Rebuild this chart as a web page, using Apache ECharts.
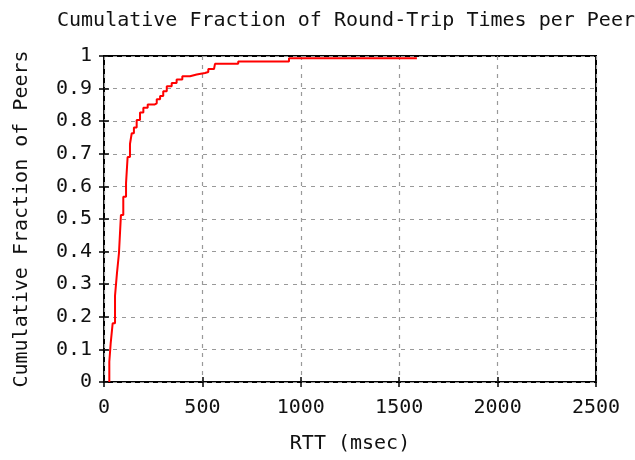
<!DOCTYPE html>
<html lang="en">
<head>
  <script src="https://cdn.jsdelivr.net/npm/echarts@6.0.0/dist/echarts.min.js"></script>
  <meta charset="UTF-8">
</head>
<body style="margin:0">
  <div id="rttChart" style="width: 635px;height:460px;"></div>

  <script type="text/javascript">

    // step points: RTT where the curve jumps, and the fraction after the jump
    var rttMs = [27, 27, 34, 44, 56, 66, 76, 86, 98, 112, 120, 132, 141, 152, 166, 183, 200, 222, 256, 268,
                 285, 301, 319, 344, 369, 398, 437, 471, 513, 530, 559, 564, 682, 940, 1590];
    var fraction = [0, 0.062, 0.119, 0.18, 0.265, 0.335, 0.395, 0.512, 0.568, 0.61, 0.69, 0.73, 0.763, 0.781, 0.804, 0.827, 0.841, 0.851, 0.855, 0.867,
                    0.877, 0.892, 0.907, 0.917, 0.928, 0.938, 0.943, 0.948, 0.951, 0.960, 0.965, 0.976, 0.983, 0.993, 0.993];
    var xTicks = [0, 500, 1000, 1500, 2000, 2500];
    var yTicks = ['0', '0.1', '0.2', '0.3', '0.4', '0.5', '0.6', '0.7', '0.8', '0.9', '1'];

    var font = 'DejaVu Sans Mono';
    var points = rttMs.map(function (x, i) { return [x, fraction[i]]; });

    function createRttChart() {
        const chart = echarts.init(document.getElementById('rttChart'));

        const tickStyle = { show: true, inside: true, length: 5, lineStyle: { color: '#000', width: 1.5 } };
        const grid = { type: [4, 5], color: '#999', width: 1.2 };

        let option = {
            animation: false,
            title: {
                text: 'Cumulative Fraction of Round-Trip Times per Peer',
                left: 52,
                top: 6,
                textStyle: { fontFamily: font, fontSize: 20, fontWeight: 'normal', color: '#111' }
            },
            grid: {
                left: 104, right: 39, top: 56, bottom: 78,
                show: true, borderColor: '#000', borderWidth: 2
            },
            xAxis: [
                {
                    type: 'value', min: 0, max: 2500, interval: 500,
                    name: 'RTT (msec)', nameLocation: 'middle', nameGap: 52,
                    nameTextStyle: { fontFamily: font, fontSize: 20, color: '#111' },
                    axisLine: { show: false },
                    axisTick: tickStyle,
                    axisLabel: {
                        fontFamily: font, fontSize: 20, color: '#111', margin: 16,
                        formatter: function (v) { return xTicks.indexOf(v) >= 0 ? String(v) : ''; }
                    },
                    splitLine: { show: true, lineStyle: grid }
                },
                {
                    type: 'value', min: 0, max: 2500, interval: 500, position: 'top',
                    axisLine: { show: false }, axisTick: tickStyle,
                    axisLabel: { show: false }, splitLine: { show: false }
                }
            ],
            yAxis: [
                {
                    type: 'value', min: 0, max: 1, interval: 0.1,
                    name: 'Cumulative Fraction of Peers', nameLocation: 'middle', nameGap: 72,
                    nameTextStyle: { fontFamily: font, fontSize: 20, color: '#111' },
                    axisLine: { show: false },
                    axisTick: tickStyle,
                    axisLabel: {
                        fontFamily: font, fontSize: 20, color: '#111', margin: 12,
                        formatter: function (v) { return yTicks[Math.round(v * 10)]; }
                    },
                    splitLine: { show: true, lineStyle: grid }
                },
                {
                    type: 'value', min: 0, max: 1, interval: 0.1, position: 'right',
                    axisLine: { show: false }, axisTick: tickStyle,
                    axisLabel: { show: false }, splitLine: { show: false }
                }
            ],
            series: [
                {
                    type: 'line',
                    step: 'end',
                    data: points,
                    showSymbol: false,
                    lineStyle: { color: '#ff0000', width: 2 },
                    z: 5
                }
            ]
        };

        chart.setOption(option);
    }
    createRttChart();
  </script>
</body>
</html>
